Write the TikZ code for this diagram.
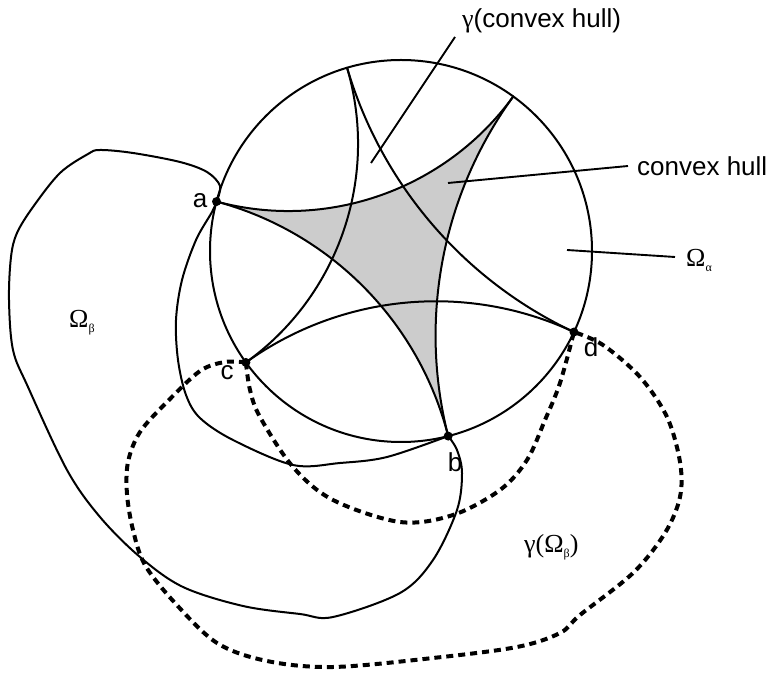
\documentclass[tikz,border=0pt]{standalone}
\usepackage{fontspec}
\setmainfont{Liberation Sans}
\newfontfamily\serifgr{Liberation Serif}
\usetikzlibrary{calc}
\newcommand\geoarc[2]{arc[start angle={#1-90}, end angle={#2-270}, radius={191*tan((#2-#1)/2)}]}
\newcommand\subsc[1]{\raisebox{-5pt}{\fontsize{12}{12}\selectfont #1}}
\begin{document}
\begin{tikzpicture}[x=1pt,y=1pt, line join=round,
  solidline/.style={line width=2pt, line cap=round},
  dashline/.style={line width=4pt, dash pattern=on 7pt off 5pt, line cap=butt},
  leader/.style={line width=1.9pt},
  ptdot/.style={circle, fill=black, inner sep=0pt, minimum size=9pt},
  lbl/.style={font=\fontsize{26}{30}\selectfont, inner sep=0pt},
  ]
\useasboundingbox (0,0) rectangle (773,677);
\coordinate (O) at (401,426);
\coordinate (P1) at ($(O)+(54:191)$);
\coordinate (P2) at ($(O)+(106.4:191)$);
\coordinate (pa) at ($(O)+(165:191)$);
\coordinate (pb) at ($(O)+(284.3:191)$);
\coordinate (pc) at ($(O)+(215.7:191)$);
\coordinate (pd) at ($(O)+(334.9:191)$);

% convex hull (shaded ideal triangle)
\fill[black!20] (P1) \geoarc{54}{165} \geoarc{165}{284.3} \geoarc{284.3}{414} -- cycle;

% boundary circle
\draw[solidline] (O) circle[radius=191];

% geodesics
\draw[solidline] (P1) \geoarc{54}{165};
\draw[solidline] (pa) \geoarc{165}{284.3};
\draw[solidline] (pb) \geoarc{284.3}{414};
\draw[solidline] (P2) \geoarc{106.4}{215.7};
\draw[solidline] (pc) \geoarc{215.7}{334.9};
\draw[solidline] (pd) \geoarc{334.9}{466.4};

% Omega_beta boundary
\draw[solidline] plot[smooth, tension=0.55] coordinates {(pa) (220,491) (207,505) (180,515) (133,524) (100,527) (88,523) (60,504) (33,470) (17,444) (11,420) (9,377) (13,327) (28,290) (67,207) (100,160) (140,120) (183,90) (243,71) (300,63) (333,60) (400,84) (433,117) (457,167) (462,204) (457,227) (pb)};
\draw[solidline] plot[smooth, tension=0.55] coordinates {(pa) (212,465) (196,437) (182,397) (176,357) (178,317) (186,282) (200,259) (233,237) (293,212) (340,214) (387,220) (pb)};

% gamma(Omega_beta) boundary
\draw[dashline] plot[smooth, tension=0.55] coordinates {(pc) (225,315) (200,306) (167,275) (140,245) (128,215) (127,183) (133,147) (145,112) (175,74) (217,34) (267,16) (333,10) (433,19) (517,30) (560,44) (580,62) (633,104) (665,144) (680,180) (680,215) (667,260) (640,300) (603,332) (pd)};
\draw[dashline] plot[smooth, tension=0.55] coordinates {(pc) (250,287) (260,260) (293,210) (333,177) (400,155) (453,162) (500,187) (527,217) (545,257) (560,294) (pd)};

% points
\node[ptdot] (a) at (pa) {};
\node[ptdot] (b) at (pb) {};
\node[ptdot] (c) at (pc) {};
\node[ptdot] (d) at (pd) {};

% point labels
\node[lbl, anchor=base] (la) at (200,469) {a};
\node[lbl, anchor=base] (lc) at (227,297) {c};
\node[lbl, anchor=base] (lb) at (455,205) {b};
\node[lbl, anchor=base] (ld) at (591,320) {d};

% region labels
\node[lbl, anchor=base west] (gch) at (462,649) {{\serifgr γ}(convex hull)};
\node[lbl, anchor=base west] (ch) at (637,501) {convex hull};
\node[lbl, anchor=base west] (oa) at (686,410) {\serifgr Ω\subsc{α}};
\node[lbl, anchor=base west] (ob) at (69,349) {\serifgr Ω\subsc{β}};
\node[lbl, anchor=base west] (gob) at (524,124) {\serifgr γ(Ω\subsc{β})};

% leader lines
\coordinate (l1a) at (455,640);
\coordinate (l1b) at (371,514);
\coordinate (l2a) at (628,511);
\coordinate (l2b) at (448,494);
\coordinate (l3a) at (675,420);
\coordinate (l3b) at (567,427);
\draw[leader] (l1a) -- (l1b);
\draw[leader] (l2a) -- (l2b);
\draw[leader] (l3a) -- (l3b);
\end{tikzpicture}
\end{document}
